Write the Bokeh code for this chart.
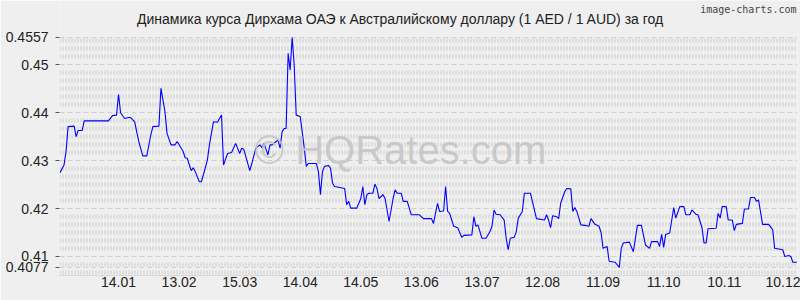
import pandas as pd
from bokeh.plotting import figure
from bokeh.models import (Range1d, FixedTicker, Grid, Label, CustomJSTickFormatter,
                          DatetimeTickFormatter, ColumnDataSource)
from bokeh.embed import file_html
from bokeh.resources import INLINE

START = "2024-12-16"
# day offsets from START and AED/AUD rate
days = [0, 2, 3, 4, 7, 8, 9, 11, 12, 24, 26, 28, 29, 30, 32, 34, 35, 37, 38, 39,
        41, 43, 45, 46, 49, 50, 52, 53, 55, 57, 58, 59, 61, 62, 63, 65, 66, 67, 69, 70,
        71, 73, 74, 76, 78, 79, 80, 81, 83, 85, 87, 89, 90, 91, 94, 95, 97, 99, 100, 101,
        103, 104, 105, 107, 108, 109, 110, 111, 112, 113, 114, 115, 116, 117, 119, 121, 122, 123, 127, 128,
        129, 130, 131, 133, 134, 135, 136, 141, 142, 143, 144, 147, 149, 150, 151, 152, 153, 155, 156, 157,
        158, 160, 161, 163, 165, 166, 167, 169, 170, 172, 174, 178, 180, 184, 185, 187, 188, 190, 191, 192,
        193, 195, 197, 199, 200, 204, 205, 206, 207, 209, 211, 213, 214, 215, 216, 218, 220, 221, 222, 223,
        225, 226, 227, 229, 230, 233, 236, 240, 241, 242, 243, 244, 246, 247, 248, 250, 251, 253, 254, 255,
        256, 258, 260, 262, 263, 265, 267, 268, 269, 271, 272, 275, 277, 278, 279, 282, 284, 286, 288, 290,
        292, 293, 296, 297, 298, 299, 300, 302, 304, 305, 307, 309, 310, 312, 313, 315, 316, 318, 319, 320,
        321, 325, 326, 327, 328, 330, 331, 333, 334, 335, 338, 339, 341, 342, 344, 345, 346, 348, 351, 353,
        354, 358, 359, 361, 362, 363, 365]
rates = [0.4275, 0.4291, 0.4319, 0.4371, 0.4372, 0.4350, 0.4363, 0.4363, 0.4383, 0.4383,
         0.4394, 0.4395, 0.4438, 0.4400, 0.4388, 0.4390, 0.4390, 0.4381, 0.4360, 0.4340,
         0.4310, 0.4310, 0.4354, 0.4371, 0.4372, 0.4451, 0.4402, 0.4357, 0.4333, 0.4333,
         0.4340, 0.4333, 0.4319, 0.4306, 0.4305, 0.4279, 0.4285, 0.4277, 0.4256, 0.4256,
         0.4270, 0.4301, 0.4333, 0.4381, 0.4380, 0.4388, 0.4395, 0.4291, 0.4315, 0.4317,
         0.4336, 0.4315, 0.4326, 0.4324, 0.4279, 0.4294, 0.4326, 0.4333, 0.4327, 0.4336,
         0.4312, 0.4333, 0.4333, 0.4340, 0.4343, 0.4326, 0.4360, 0.4367, 0.4367, 0.4524,
         0.4489, 0.4557, 0.4499, 0.4395, 0.4392, 0.4326, 0.4288, 0.4294, 0.4294, 0.4277,
         0.4229, 0.4277, 0.4288, 0.4290, 0.4284, 0.4253, 0.4246, 0.4242, 0.4208, 0.4215,
         0.4201, 0.4201, 0.4221, 0.4246, 0.4208, 0.4229, 0.4232, 0.4232, 0.4251, 0.4242,
         0.4221, 0.4229, 0.4221, 0.4173, 0.4221, 0.4239, 0.4232, 0.4232, 0.4215, 0.4215,
         0.4187, 0.4187, 0.4179, 0.4179, 0.4169, 0.4211, 0.4194, 0.4195, 0.4246, 0.4194,
         0.4190, 0.4163, 0.4160, 0.4140, 0.4144, 0.4145, 0.4183, 0.4163, 0.4166, 0.4138,
         0.4138, 0.4152, 0.4163, 0.4197, 0.4188, 0.4187, 0.4176, 0.4138, 0.4114, 0.4138,
         0.4140, 0.4152, 0.4180, 0.4194, 0.4232, 0.4232, 0.4179, 0.4176, 0.4187, 0.4176,
         0.4160, 0.4185, 0.4183, 0.4179, 0.4211, 0.4235, 0.4242, 0.4241, 0.4194, 0.4202,
         0.4194, 0.4166, 0.4165, 0.4163, 0.4179, 0.4167, 0.4163, 0.4150, 0.4117, 0.4121,
         0.4090, 0.4088, 0.4077, 0.4117, 0.4128, 0.4130, 0.4110, 0.4165, 0.4165, 0.4124,
         0.4117, 0.4131, 0.4131, 0.4121, 0.4146, 0.4119, 0.4146, 0.4149, 0.4202, 0.4180,
         0.4204, 0.4204, 0.4187, 0.4187, 0.4197, 0.4188, 0.4187, 0.4160, 0.4128, 0.4128,
         0.4158, 0.4159, 0.4190, 0.4180, 0.4204, 0.4204, 0.4176, 0.4176, 0.4154, 0.4167,
         0.4169, 0.4199, 0.4199, 0.4223, 0.4223, 0.4215, 0.4218, 0.4167, 0.4167, 0.4156,
         0.4117, 0.4114, 0.4100, 0.4102, 0.4100, 0.4088, 0.4088]
y_ticks = [0.4077, 0.41, 0.42, 0.43, 0.44, 0.45, 0.4557]
x_tick_dates = ["2025-01-14", "2025-02-13", "2025-03-15", "2025-04-14", "2025-05-14",
                "2025-06-13", "2025-07-13", "2025-08-12", "2025-09-11", "2025-10-11",
                "2025-11-10", "2025-12-10"]
title_text = "Динамика курса Дирхама ОАЭ к Австралийскому доллару (1 AED / 1 AUD) за год"

start = pd.Timestamp(START)
dates = [start + pd.Timedelta(days=d) for d in days]
src = ColumnDataSource(dict(date=dates, rate=rates))

BG = "#efefef"
x0 = start - pd.Timedelta(hours=6)
x1 = start + pd.Timedelta(days=365.3)

# frame spans the whole canvas height above the x axis so that the
# title texts (which are clipped to the frame) can be drawn there
p = figure(width=800, height=300, output_backend="svg", toolbar_location=None,
           x_axis_type="datetime",
           x_range=Range1d(x0, x1), y_range=Range1d(0.40603, 0.46342),
           min_border_left=59, min_border_right=3, min_border_top=0, min_border_bottom=25,
           background_fill_color=BG, border_fill_color=BG, outline_line_color=None)

p.xgrid.visible = False
p.ygrid.visible = False

# textured rows
step = 0.01 / 6
rows = []
k = -2
while True:
    v = 0.41 + k * step
    if v > 0.4560:
        break
    if k % 6 != 0 and v > 0.4061:
        rows.append(round(v, 6))
    k += 1
g1 = Grid(dimension=1, ticker=FixedTicker(ticks=rows), grid_line_color="#cacaca",
          grid_line_width=4, grid_line_dash="1 2")
p.add_layout(g1)
g2 = Grid(dimension=1, ticker=FixedTicker(ticks=y_ticks), grid_line_color="#cfcfcf",
          grid_line_width=1, grid_line_dash="5 3")
p.add_layout(g2)

p.line("date", "rate", source=src, line_color="#0000ff", line_width=1.1)

# axes
ya = p.yaxis[0]
ya.ticker = FixedTicker(ticks=y_ticks)
ya.formatter = CustomJSTickFormatter(code="return String(tick);")
ya.axis_line_color = None
ya.major_tick_out = 4
ya.major_tick_in = 0
ya.major_tick_line_color = "#555555"
ya.minor_tick_line_color = None
ya.major_label_text_font = "Liberation Sans"
ya.major_label_text_font_size = "14px"
ya.major_label_text_color = "#222222"
ya.major_label_standoff = 7

xa = p.xaxis[0]
xa.ticker = FixedTicker(ticks=[pd.Timestamp(d).value / 1e6 for d in x_tick_dates])
fmt = "%d.%m"
xa.formatter = DatetimeTickFormatter(milliseconds=fmt, seconds=fmt, minsec=fmt, minutes=fmt,
                                     hourmin=fmt, hours=fmt, days=fmt, months=fmt, years=fmt)
xa.axis_line_color = "#bbbbbb"
xa.axis_line_dash = "1 1"
xa.major_tick_line_color = None
xa.major_tick_out = 0
xa.major_tick_in = 0
xa.minor_tick_line_color = None
xa.major_label_text_font = "Liberation Sans"
xa.major_label_text_font_size = "14px"
xa.major_label_text_color = "#222222"
xa.major_label_standoff = 1

# texts (screen units are relative to the plot frame: origin at its bottom-left)
p.add_layout(Label(x=341, y=257, x_units="screen", y_units="screen", text=title_text,
                   text_align="center", text_baseline="middle", text_font="Liberation Sans",
                   text_font_size="14px", text_color="#222222"))
p.add_layout(Label(x=737, y=266, x_units="screen", y_units="screen", text="image-charts.com",
                   text_align="right", text_baseline="middle", text_font="DejaVu Sans Mono",
                   text_font_size="10px", text_color="#444444"))
p.add_layout(Label(x=341, y=126, x_units="screen", y_units="screen", text="© HQRates.com",
                   text_align="center", text_baseline="middle", text_font="Liberation Sans",
                   text_font_size="40px", text_color="#c4c4c4", text_alpha=0.85))

open("out.html", "w").write(file_html(p, INLINE))
